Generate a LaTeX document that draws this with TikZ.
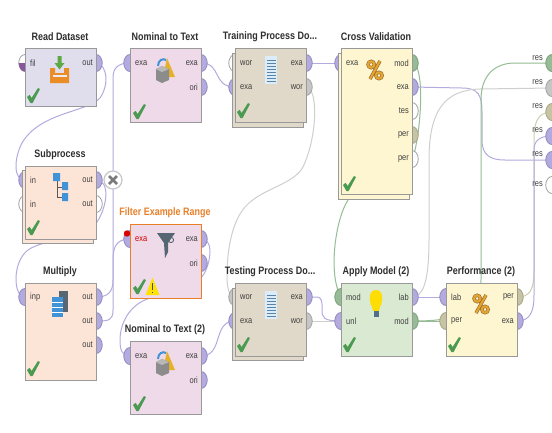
\documentclass[tikz,border=0pt]{standalone}
\usepackage{fontspec}
\setmainfont[FakeStretch=0.83]{Liberation Sans}
\usetikzlibrary{shapes.geometric}
\definecolor{pPur}{HTML}{B3ABE0}\definecolor{bPur}{HTML}{8F88BE}
\definecolor{pTan}{HTML}{C6C4A2}\definecolor{bTan}{HTML}{A5A385}
\definecolor{pGrn}{HTML}{95BC95}\definecolor{bGrn}{HTML}{7A9E7A}
\definecolor{pGry}{HTML}{C6C6C6}\definecolor{bGry}{HTML}{A2A2A2}
\definecolor{pWht}{HTML}{FFFFFF}\definecolor{bWht}{HTML}{A0A0A0}
\definecolor{fRead}{HTML}{E0DDEC}\definecolor{fNom}{HTML}{EFDAE9}
\definecolor{fSub}{HTML}{FCE4D6}\definecolor{fDoc}{HTML}{E0D8C8}
\definecolor{fCross}{HTML}{FDF6D0}\definecolor{fApply}{HTML}{DAE9D1}
\definecolor{cOrange}{HTML}{E8802A}\definecolor{cCheck}{HTML}{4A9A52}
\definecolor{cBlue}{HTML}{3F93D6}\definecolor{cSlate}{HTML}{566672}
\definecolor{cGold}{HTML}{E3A92E}
\pgfdeclarelayer{bg}\pgfdeclarelayer{conn}\pgfdeclarelayer{port}\pgfdeclarelayer{box}
\pgfsetlayers{bg,conn,port,box,main}
\tikzset{
 opnode/.style={draw=#1,line width=.9pt,inner sep=0pt,anchor=north west,minimum width=71pt},
 opnode/.default={black!40},
 porte/.style={ellipse,inner sep=0pt,minimum width=12.5pt,minimum height=17pt,line width=.8pt},
 title/.style={font=\bfseries\fontsize{10.8}{12}\selectfont,text=black!82,inner sep=0pt},
 plabel/.style={font=\fontsize{9}{10}\selectfont,text=black!75,inner sep=0pt},
 wire/.style={line width=1pt,line cap=round},
 wPur/.style={wire,draw=pPur},
 wGry/.style={wire,draw=pGry!85},
 wGrn/.style={wire,draw=pGrn},
 wTan/.style={wire,draw=pTan!85},
}
% name, x, y, height, fill, title
\newcommand{\opbox}[7][black!40]{%
 \begin{pgfonlayer}{box}
 \node[opnode=#1,fill=#6,minimum height=#5pt] (#2) at (#3,#4) {};
 \end{pgfonlayer}
 \node[title] (#2-t) at ({#3+35},{#4-11}) {#7};}
\newcommand{\backbox}[5]{%
 \begin{pgfonlayer}{box}
 \node[opnode,fill=#5,minimum height=#4pt] (#1) at (#2,#3) {};
 \end{pgfonlayer}}
% name, x, y, colourkey, text
\newcommand{\portL}[5]{%
 \begin{pgfonlayer}{port}\node[porte,fill=p#4,draw=b#4] (#1) at (#2,#3) {};\end{pgfonlayer}
 \node[plabel,anchor=west] (#1-l) at ({#2+5},#3) {#5};}
\newcommand{\portR}[5]{%
 \begin{pgfonlayer}{port}\node[porte,fill=p#4,draw=b#4] (#1) at (#2,#3) {};\end{pgfonlayer}
 \node[plabel,anchor=east] (#1-l) at ({#2-3},#3) {#5};}
\newcommand{\portX}[5]{%
 \begin{pgfonlayer}{port}\node[porte,fill=p#4,draw=b#4] (#1) at (552,#2) {};\end{pgfonlayer}
 \node[plabel,anchor=east] (#1-l) at (543,#3) {#5};}
\newcommand{\chk}[2]{\fill[cCheck,shift={(#1,#2)}] (0,9)--(2.6,6.8)--(4.6,10)--(11,0)--(13,1)--(5.6,15)--(3.4,15)--cycle;}
\newcommand{\pct}[2]{\begin{scope}[shift={(#1,#2)}]
 \draw[line width=3.4pt,brown!85!black] (-3.8,-5.5) circle (3.2) (4,5.5) circle (3.2) (-5,9)--(5,-9);
 \draw[line width=2pt,cGold] (-3.8,-5.5) circle (3.2) (4,5.5) circle (3.2) (-5,9)--(5,-9);
 \end{scope}}
\newcommand{\nomicon}[2]{\begin{scope}[shift={(#1,#2)}]
 \fill[cGold!90!yellow] (11,1)--(19,20)--(7,20)--cycle;
 \fill[black!45] (0,12)--(6,9)--(13,12)--(13,23)--(6,26)--(0,23)--cycle;
 \fill[black!28] (0,12)--(6,9)--(13,12)--(6,15)--cycle;
 \draw[cBlue,line width=2pt] (2,9) .. controls (2,3) and (7,1) .. (10,3);
 \end{scope}}
\newcommand{\docicon}[2]{\begin{scope}[shift={(#1,#2)}]
 \fill[cBlue!18] (0,0) rectangle (12,28);
 \foreach \yy in {4,7,...,25}{\draw[cBlue!70!black!80,line width=.8pt] (1.5,\yy)--(10.5,\yy);}
 \end{scope}}
\begin{document}
\begin{tikzpicture}[x=1pt,y=-1pt]
\useasboundingbox (0,0) rectangle (552,432);
\begin{pgfonlayer}{bg}\fill[white] (0,0) rectangle (552,432);\end{pgfonlayer}
% operators
\opbox{read}{25}{48}{58}{fRead}{Read Dataset}
\opbox{nom}{130}{48}{74}{fNom}{Nominal to Text}
\backbox{subb}{22}{170}{73}{fSub}
\opbox{sub}{25}{166}{73}{fSub}{Subprocess}
\opbox{mult}{25}{283}{97}{fSub}{Multiply}
\opbox[cOrange]{filt}{130}{224}{74}{fNom}{\textcolor{cOrange}{Filter Example Range}}
\opbox{nomb}{130}{341}{73}{fNom}{Nominal to Text (2)}
\backbox{trab}{232}{53}{74}{fDoc}
\opbox{tra}{235}{48}{74}{fDoc}{Training Process Do...}
\backbox{crob}{338}{53}{146}{fCross}
\opbox{cro}{341}{48}{146}{fCross}{Cross Validation}
\backbox{tesb}{232}{288}{72}{fDoc}
\opbox{tes}{235}{283}{73}{fDoc}{Testing Process Do...}
\opbox{app}{341}{283}{73}{fApply}{Apply Model (2)}
\opbox{per}{446}{283}{73}{fCross}{Performance (2)}
% ports
\portL{readf}{25}{63}{Wht}{fil}
\begin{pgfonlayer}{port}\fill[pPur!60!violet!85!black] (18.8,63) arc[start angle=180,end angle=90,x radius=6.2,y radius=8.5] -- (25,63) -- cycle;\end{pgfonlayer}
\portR{reado}{96}{63}{Pur}{out}
\portL{nomi}{130}{63}{Pur}{exa}
\portR{nomo}{201}{63}{Pur}{exa}
\portR{nomr}{201}{87}{Pur}{ori}
\portL{subi}{25}{180}{Pur}{in}
\portL{subj}{25}{204}{Wht}{in}
\portR{subo}{96}{180}{Pur}{out}
\portR{subp}{96}{204}{Wht}{out}
\portL{multi}{25}{297}{Pur}{inp}
\portR{multa}{96}{297}{Pur}{out}
\portR{multb}{96}{321}{Pur}{out}
\portR{multc}{96}{345}{Pur}{out}
\portL{filti}{130}{239}{Pur}{\textcolor{red!80!black}{exa}}
\portR{filto}{201}{239}{Pur}{exa}
\portR{filtr}{201}{263}{Pur}{ori}
\begin{pgfonlayer}{port}\fill[red!85!black] (127,233.5) circle (3.2);\end{pgfonlayer}
\portL{nombi}{130}{356}{Pur}{exa}
\portR{nombo}{201}{356}{Pur}{exa}
\portR{nombr}{201}{380}{Pur}{ori}
\portL{traw}{235}{63}{Wht}{wor}
\portL{trae}{235}{87}{Pur}{exa}
\portR{traoe}{306}{63}{Pur}{exa}
\portR{traow}{306}{87}{Gry}{wor}
\portL{croi}{341}{63}{Pur}{exa}
\portR{crom}{412}{63}{Grn}{mod}
\portR{croe}{412}{87}{Pur}{exa}
\portR{crot}{412}{111}{Wht}{tes}
\portR{crop}{412}{135}{Tan}{per}
\portR{croq}{412}{159}{Wht}{per}
\portL{tesw}{235}{297}{Gry}{wor}
\portL{tese}{235}{321}{Pur}{exa}
\portR{tesoe}{306}{297}{Pur}{exa}
\portR{tesow}{306}{321}{Gry}{wor}
\portL{appm}{341}{297}{Grn}{mod}
\portL{appu}{341}{321}{Pur}{unl}
\portR{appl}{412}{297}{Pur}{lab}
\portR{appo}{412}{321}{Grn}{mod}
\portL{perl}{446}{297}{Pur}{lab}
\portL{perp}{446}{321}{Tan}{per}
\portR{pero}{517}{297}{Tan}{per}
\portR{pere}{517}{321}{Pur}{exa}
\portX{res1}{63}{58}{Grn}{res}
\portX{res2}{88}{82}{Gry}{res}
\portX{res3}{112}{106}{Tan}{res}
\portX{res4}{136}{130}{Pur}{res}
\portX{res5}{160}{154}{Pur}{res}
\portX{res6}{185}{184}{Wht}{res}
% badge
\node[circle,draw=black!22,fill=white,line width=1.2pt,minimum size=18pt,inner sep=0pt] (badge) at (113,180) {};
\draw[black!52,line width=2.6pt] ([shift={(-4,-4)}]badge.center)--([shift={(4,4)}]badge.center) ([shift={(-4,4)}]badge.center)--([shift={(4,-4)}]badge.center);
% connectors
\begin{pgfonlayer}{conn}
\draw[wPur] (reado.center) .. controls (108,65) and (109,85) .. (100,98) .. controls (88,112) and (40,112) .. (22,143) .. controls (14,158) and (13,180) .. (subi.center);
\draw[wPur] (subo.center) .. controls (110,180) and (108,205) .. (97,222) .. controls (85,240) and (45,238) .. (28,250) .. controls (12,262) and (13,297) .. (multi.center);
\draw[wPur] (multa.center) .. controls (108,297) and (113,292) .. (113,280) -- (113,78) .. controls (113,68) and (118,63) .. (nomi.center);
\draw[wPur] (multb.center) .. controls (108,321) and (113,321) .. (113,310) -- (113,262) .. controls (113,250) and (114,239) .. (filti.center);
\draw[wPur] (filto.center) .. controls (212,239) and (212,255) .. (206,270) .. controls (198,290) and (165,295) .. (150,298) .. controls (128,305) and (120,325) .. (120,340) .. controls (120,350) and (122,356) .. (nombi.center);
\draw[wPur] (nomo.center) .. controls (222,63) and (212,87) .. (trae.center);
\draw[wPur] (nombo.center) .. controls (224,356) and (212,321) .. (tese.center);
\draw[wPur] (traoe.center) -- (croi.center);
\draw[wGry] (traow.center) .. controls (318,87) and (318,135) .. (303,167) .. controls (293,185) and (262,188) .. (245,207) .. controls (232,222) and (227,250) .. (227,275) .. controls (227,288) and (229,297) .. (tesw.center);
\draw[wGry] (tesow.center) -- (appu.center);
\draw[wPur] (tesoe.center) -- (316,297) .. controls (323,297) and (322,303) .. (322,310) .. controls (322,318) and (324,321) .. (appu.center);
\draw[wGrn] (crom.center) .. controls (424,63) and (422,120) .. (415,150) .. controls (408,180) and (365,180) .. (348,200) .. controls (335,220) and (328,275) .. (appm.center);
\draw[wPur] (croe.center) -- (462,88) .. controls (478,88) and (482,95) .. (482,112) -- (482,140) .. controls (482,155) and (490,160) .. (505,160) -- (res5.center);
\draw[wPur] (appl.center) -- (perl.center);
\draw[wGrn] (appo.center) -- (perp.center);
\draw[wGry] (appl.center) .. controls (422,297) and (429,285) .. (429,240) -- (429,160) .. controls (429,110) and (445,90) .. (480,89) -- (res2.center);
\draw[wGrn] (appo.center) .. controls (440,321) and (481,320) .. (481,280) -- (481,100) .. controls (481,75) and (495,63) .. (515,63) -- (res1.center);
\draw[wTan] (pero.center) .. controls (530,297) and (534,290) .. (534,270) -- (534,140) .. controls (534,125) and (536,112) .. (res3.center);
\draw[wPur] (pere.center) .. controls (530,321) and (534,312) .. (534,295) -- (534,150) .. controls (534,142) and (538,136) .. (res4.center);
\end{pgfonlayer}
% check marks
\chk{27}{88}\chk{133}{104}\chk{27}{220}\chk{27}{361}\chk{133}{279}\chk{133}{396}\chk{237}{103}\chk{343}{176}\chk{237}{337}\chk{343}{337}\chk{448}{337}
% warning triangle
\fill[yellow!85!orange] (152.5,277.5)--(159.5,295)--(145.5,295)--cycle;
\draw[black!70,line width=1.2pt] (152.5,283)--(152.5,290) (152.5,291.5)--(152.5,293);
% read icon
\fill[cOrange!90!yellow] (50,68)--(55,68)--(55,73)--(64,73)--(64,68)--(69,68)--(69,83)--(50,83)--cycle;
\fill[fRead!60!white] (52.5,74.5) rectangle (66.5,77);
\fill[cCheck!85!lime] (57.5,56)--(61.5,56)--(61.5,63)--(64.5,63)--(59.5,69.5)--(54.5,63)--(57.5,63)--cycle;
% hierarchy icon
\draw[black!65,line width=.9pt] (57,180)--(57,197)--(63,197) (57,187)--(63,187);
\fill[cBlue] (53,173) rectangle (60,181) (62,182) rectangle (68,190) (62,193) rectangle (68,201);
% stack icon
\fill[cSlate] (59,291) rectangle (68,312);
\fill[cBlue] (52,297) rectangle (63,317);
\draw[white,line width=.4pt] (52,302)--(63,302) (52,307)--(63,307) (52,312)--(63,312);
% funnel
\fill[cSlate] (157,233)--(175,233)--(168,243)--(168,252)--(165,258)--(164,243)--cycle;
\draw[cSlate,line width=.9pt] (171,240) circle (2.6);
% other icons
\nomicon{156}{57}
\nomicon{156}{350}
\docicon{265}{56}
\docicon{265}{291}
\pct{375}{70}
\pct{481}{304}
% bulb
\fill[yellow!80!orange] (376,290) .. controls (368,290) and (369,302) .. (372,307) -- (373,311) -- (379,311) -- (380,307) .. controls (383,302) and (384,290) .. (376,290) -- cycle;
\fill[cSlate!80!cBlue] (373.5,311) rectangle (378.5,317);
\end{tikzpicture}
\end{document}
